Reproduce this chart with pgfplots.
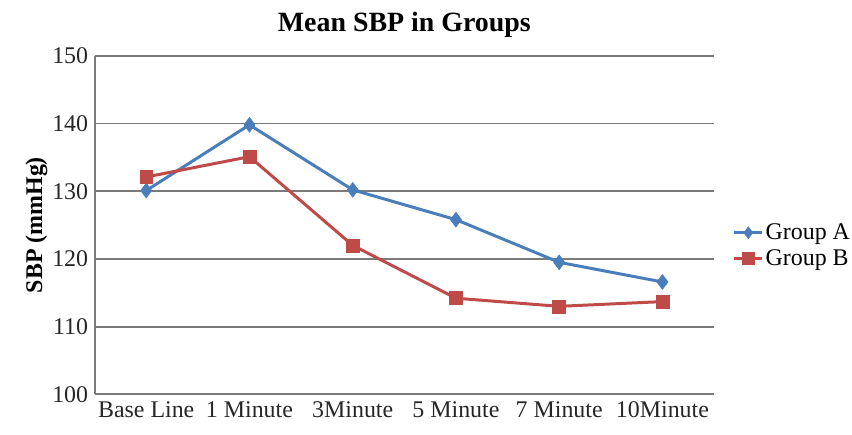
\documentclass[border=0pt]{standalone}
\usepackage{fontspec}
\setmainfont{Liberation Serif}
\usepackage{pgfplots}
\pgfplotsset{compat=1.18}
\definecolor{gA}{HTML}{4A7EBB}
\definecolor{gB}{HTML}{BE4B48}
\definecolor{gridc}{HTML}{7A7A7A}
\begin{document}
\begin{tikzpicture}
\begin{axis}[
  scale only axis,
  width=622pt, height=340pt,
  xmin=-0.5, xmax=5.5,
  ymin=100, ymax=150,
  ytick={100,110,120,130,140,150},
  xtick={0,1,2,3,4,5},
  xticklabels={Base Line,1 Minute,3Minute,5 Minute,7 Minute,10Minute},
  major tick length=0pt,
  axis x line*=bottom, axis y line*=left,
  axis line style={gridc, line width=1.8pt, -},
  ymajorgrids, grid style={gridc, line width=1.8pt},
  /pgf/number format/assume math mode=true,
  tick label style={font=\fontsize{24}{27}\selectfont, text=black!85},
  yticklabel style={xshift=-3pt},
  xticklabel style={yshift=-4pt},
  ylabel={\textbf{SBP (mmHg)}},
  ylabel style={font=\fontsize{24}{27}\selectfont, yshift=-2pt},
  title={\textbf{Mean SBP in Groups}},
  title style={font=\fontsize{28}{32}\selectfont, yshift=9pt},
  legend style={draw=none, at={(1.03,0.44)}, anchor=west, font=\fontsize{24}{27}\selectfont, row sep=4pt, inner sep=0pt},
  legend cell align=left,
  legend image code/.code={\draw[#1] (0pt,0pt) -- (28pt,0pt); \draw[#1, only marks, mark size=6pt] plot coordinates {(14pt,0pt)};},
  clip=false,
]
\addplot[gA, line width=3pt, mark=diamond*, mark size=7.5pt, mark options={line width=0.5pt}] coordinates {
(0,130.1) (1,139.8) (2,130.2) (3,125.8) (4,119.5) (5,116.6)};
\addlegendentry{Group A}
\addplot[gB, line width=3pt, mark=square*, mark size=6.5pt, mark options={line width=0.5pt}] coordinates {
(0,132.1) (1,135.1) (2,122.0) (3,114.2) (4,113.0) (5,113.7)};
\addlegendentry{Group B}
\end{axis}
\path[use as bounding box] (-95pt,-40pt) rectangle (757pt,396pt);
\end{tikzpicture}
\end{document}
